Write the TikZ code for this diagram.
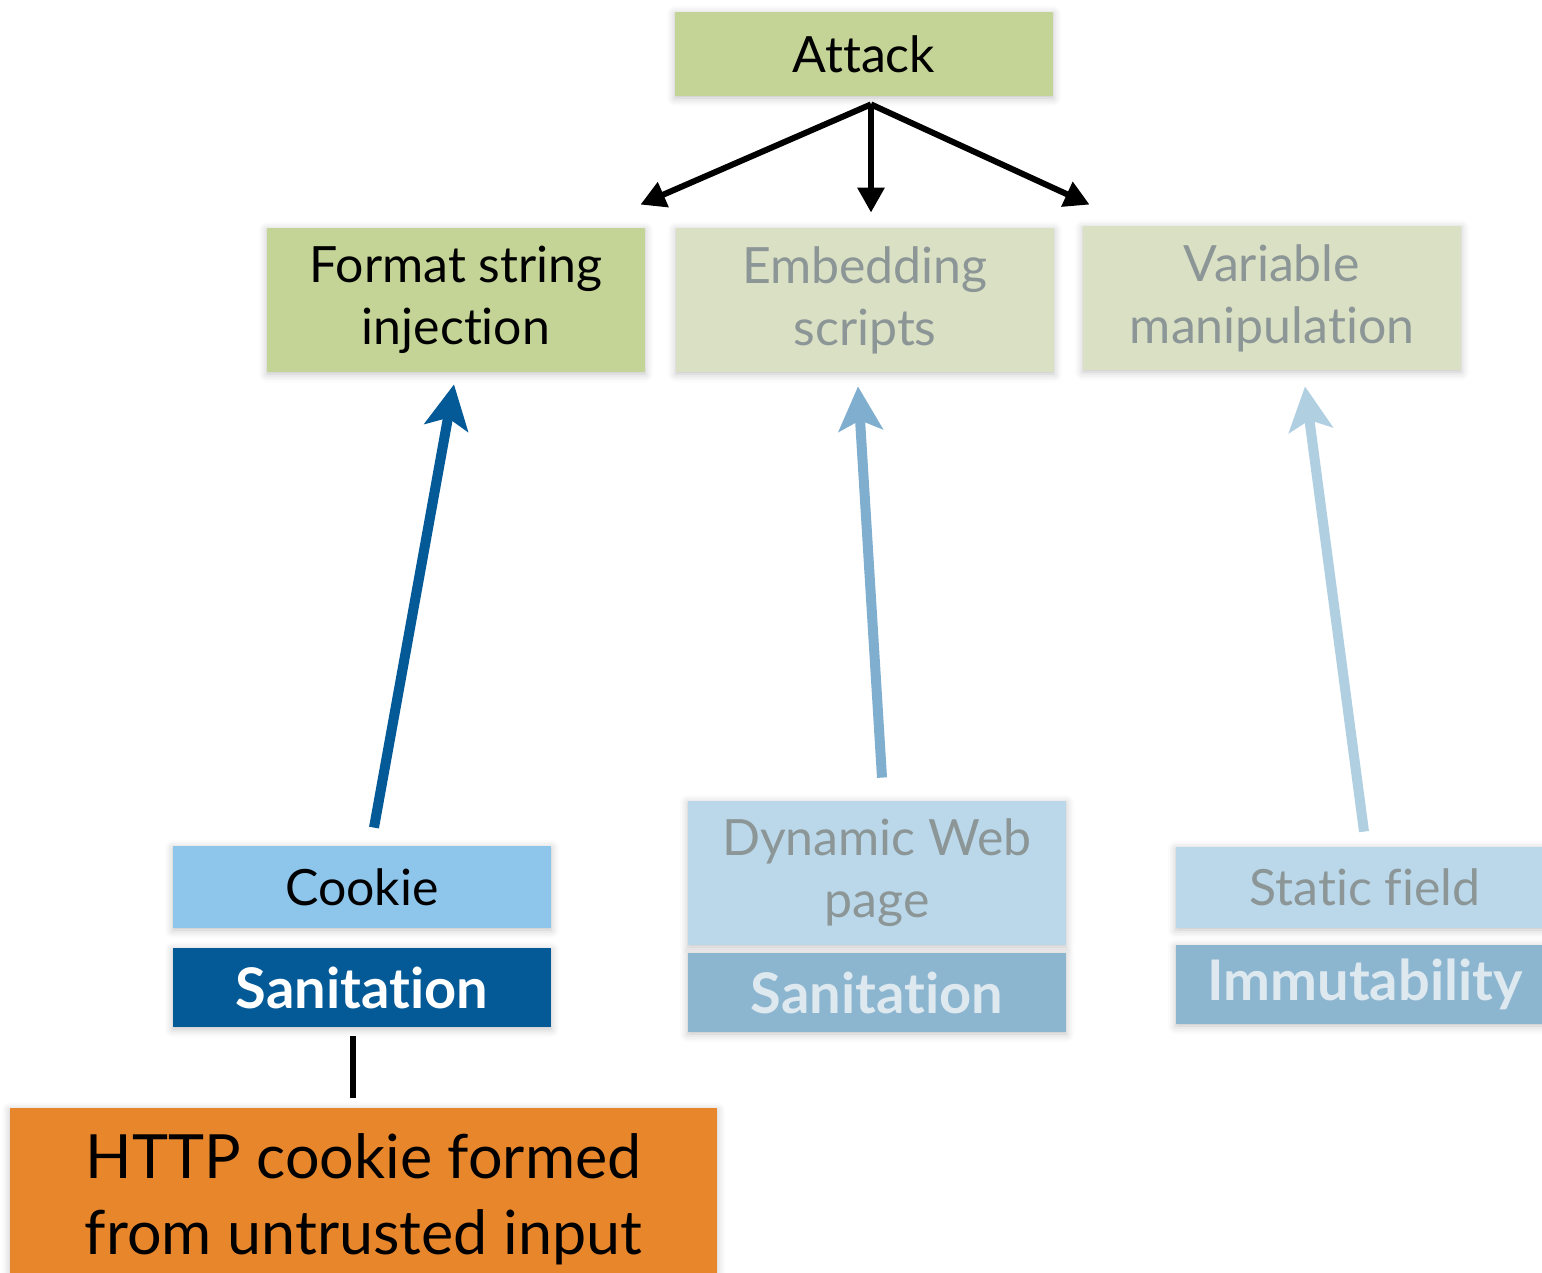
\documentclass[tikz,border=0pt]{standalone}
\usepackage{fontspec}
\setmainfont{Lato}[Ligatures={NoCommon}]
\usetikzlibrary{arrows.meta,shadows.blur,calc}

\definecolor{attackgreen}{HTML}{C4D396}
\definecolor{palegreen}{HTML}{DAE0C4}
\definecolor{paletext}{HTML}{8C9696}
\definecolor{cookieblue}{HTML}{8EC5EB}
\definecolor{deepblue}{HTML}{045A97}
\definecolor{paleblue}{HTML}{BAD8EA}
\definecolor{palemid}{HTML}{8CB5D0}
\definecolor{palewhite}{HTML}{DDE8EF}
\definecolor{fireorange}{HTML}{E8862C}
\definecolor{arrowmid}{HTML}{80AECF}
\definecolor{arrowlight}{HTML}{B0CFE1}

\tikzset{
  box/.style={rectangle, inner sep=0pt, align=center,
    blur shadow={shadow xshift=0pt, shadow yshift=-1pt,
                 shadow blur radius=4pt, shadow opacity=25}},
  wide/.style={box, minimum width=189pt},
  boldlabel/.style={font=\fontsize{28}{32}\selectfont\bfseries},
  plainlabel/.style={font=\fontsize{25}{31}\selectfont},
  treearrow/.style={line width=3pt, -{Triangle[length=12.5pt,width=13pt]}},
  upflow/.style={line width=5pt, -{Stealth[length=22pt,width=22pt,inset=5pt]}},
}

\begin{document}
\begin{tikzpicture}[x=0.5pt, y=-0.5pt]
  \useasboundingbox (0,0) rectangle (1542,1273);
  \clip (0,0) rectangle (1542,1273);

  % attack tree
  \node[wide, fill=attackgreen, minimum height=42pt, plainlabel] (attack) at (864,54) {Attack};
  \node[wide, fill=attackgreen, minimum height=72pt, plainlabel] (fmt) at (456,300)
    {Format string\\injection};
  \node[wide, fill=palegreen, minimum height=72pt, plainlabel, text=paletext] (embed) at (865,300)
    {Embedding\\scripts};
  \node[wide, fill=palegreen, minimum height=72pt, plainlabel, text=paletext] (var) at (1272,298)
    {Variable\\manipulation};

  % sources and their defences
  \node[wide, fill=cookieblue, minimum height=41pt, plainlabel] (cookie) at (362,887) {Cookie};
  \node[wide, fill=deepblue, minimum height=39.5pt, boldlabel, text=white] (san1) at (362,987.5) {Sanitation};

  \node[wide, fill=paleblue, minimum height=72pt, plainlabel, text=paletext] (dyn) at (877,873)
    {Dynamic Web\\page};
  \node[wide, fill=palemid, minimum height=39.5pt, boldlabel, text=palewhite] (san2) at (877,992.5) {Sanitation};

  \node[wide, fill=paleblue, minimum height=40.5pt, plainlabel, text=paletext] (static) at (1365,887.5) {Static field};
  \node[wide, fill=palemid, minimum height=39.5pt, boldlabel, text=palewhite] (immut) at (1365,984.5) {Immutability};

  \node[box, fill=fireorange, minimum width=353.5pt, minimum height=91pt,
        font=\fontsize{30.5}{38}\selectfont, anchor=north] (http) at (363.5,1108)
    {HTTP cookie formed\\from untrusted input};

  % attack branches
  \coordinate (fork) at ($(attack.south)+(7,8)$);
  \draw[treearrow] (fork) -- ($(fmt.north east)+(-5,-23)$);
  \draw[treearrow] (fork) -- ($(embed.north)+(6,-15)$);
  \draw[treearrow] (fork) -- ($(var.north west)+(7,-21)$);

  % realisation arrows
  \draw[upflow, deepblue]  ($(cookie.north)+(12,-18)$) -- ($(fmt.south)+(-2,12)$);
  \draw[upflow, arrowmid]  ($(dyn.north)+(5,-23)$) -- ($(embed.south)+(-7,14)$);
  \draw[upflow, arrowlight] ($(static.north)+(-1,-15)$) -- ($(var.south)+(33,16)$);

  % link to the concrete input
  \draw[line width=3pt] ($(san1.south)+(-9,9)$) -- ($(http.north)+(-10.5,-10)$);
\end{tikzpicture}
\end{document}
